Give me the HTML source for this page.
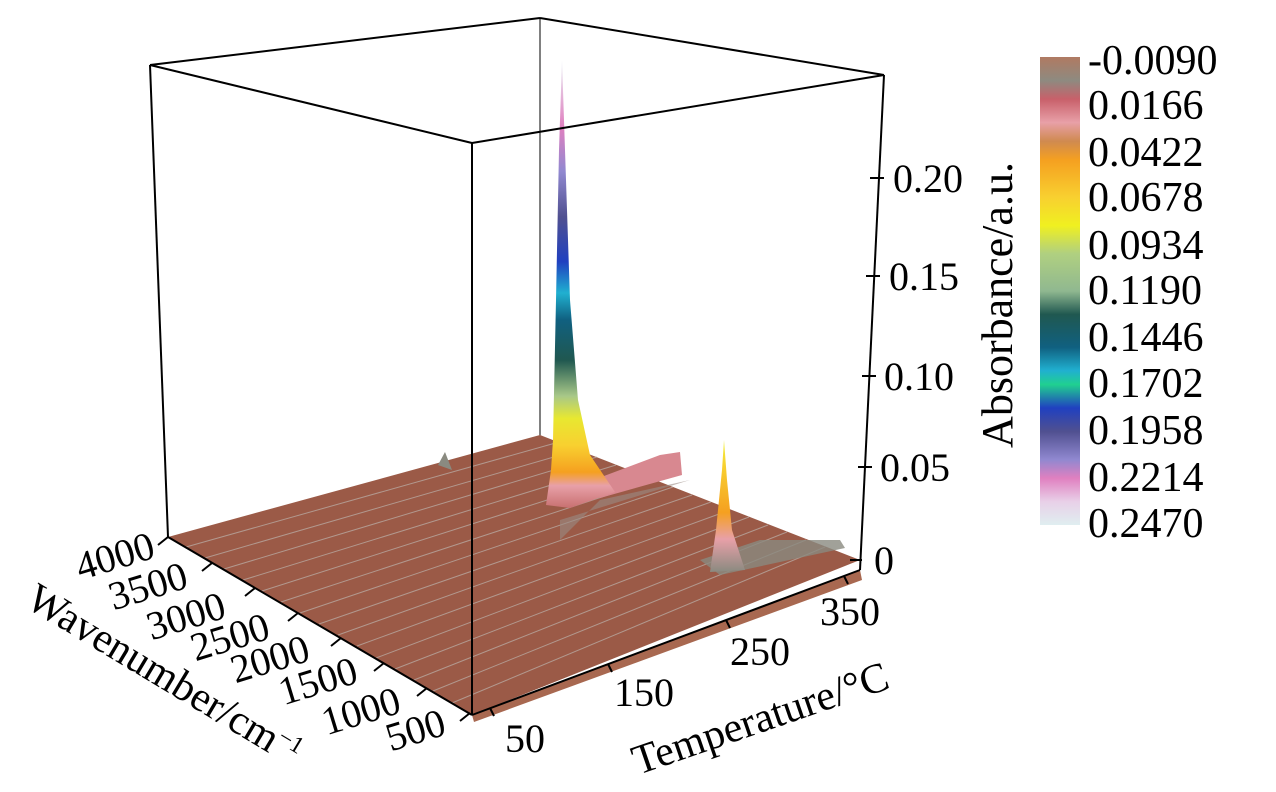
<!DOCTYPE html>
<html><head><meta charset="utf-8"><style>
body{margin:0;background:#fff}
svg text{font-family:"Liberation Serif",serif;fill:#000}
</style></head><body>
<svg width="1276" height="787" viewBox="0 0 1276 787" xmlns="http://www.w3.org/2000/svg">
<defs>
<linearGradient id="cb" x1="0" y1="0" x2="0" y2="1">
<stop offset="0" stop-color="#b07a62"/><stop offset="0.05" stop-color="#8e8a80"/>
<stop offset="0.09" stop-color="#c8606a"/><stop offset="0.14" stop-color="#e8a0a8"/>
<stop offset="0.18" stop-color="#d08a50"/><stop offset="0.22" stop-color="#f5a020"/>
<stop offset="0.3" stop-color="#f8d030"/><stop offset="0.36" stop-color="#f0f020"/>
<stop offset="0.42" stop-color="#b0d080"/><stop offset="0.5" stop-color="#90b890"/>
<stop offset="0.55" stop-color="#205850"/><stop offset="0.62" stop-color="#106080"/>
<stop offset="0.67" stop-color="#20b0d0"/><stop offset="0.7" stop-color="#20d090"/>
<stop offset="0.75" stop-color="#2040c0"/><stop offset="0.8" stop-color="#505090"/>
<stop offset="0.86" stop-color="#9088d0"/><stop offset="0.9" stop-color="#e080c0"/>
<stop offset="0.95" stop-color="#e8d0e8"/><stop offset="1" stop-color="#e0eef0"/>
</linearGradient>
<linearGradient id="pk" x1="0" y1="1" x2="0" y2="0">
<stop offset="0" stop-color="#c87070"/><stop offset="0.05" stop-color="#e8a0a8"/>
<stop offset="0.08" stop-color="#f5a020"/><stop offset="0.14" stop-color="#f8d030"/>
<stop offset="0.2" stop-color="#e8e830"/><stop offset="0.25" stop-color="#a8c888"/>
<stop offset="0.33" stop-color="#205850"/><stop offset="0.42" stop-color="#106080"/>
<stop offset="0.48" stop-color="#20b0d0"/><stop offset="0.55" stop-color="#2040c0"/>
<stop offset="0.65" stop-color="#505090"/><stop offset="0.75" stop-color="#9088d0"/>
<stop offset="0.85" stop-color="#e080c0"/><stop offset="1" stop-color="#e8eef4"/>
</linearGradient>
<linearGradient id="pk2" x1="0" y1="1" x2="0" y2="0">
<stop offset="0" stop-color="#8a8a80"/><stop offset="0.25" stop-color="#e8a0a8"/>
<stop offset="0.45" stop-color="#f5a020"/><stop offset="0.8" stop-color="#f8d030"/>
<stop offset="1" stop-color="#f0f040"/>
</linearGradient>
</defs>
<g stroke="#000" stroke-width="2" fill="none">
<line x1="150" y1="65" x2="540" y2="18"/>
<line x1="540" y1="18" x2="884" y2="75"/>
<line x1="540" y1="18" x2="540" y2="440" stroke-width="1"/>
</g>
<polygon points="168,537 540,435 860,560 472,715" fill="#9b5a47"/>
<polygon points="472,715 860,570 862,580 474,722" fill="#a86850"/>
<g stroke="#b8a8a0" stroke-width="1" opacity="0.8">
<line x1="186" y1="547" x2="559" y2="442"/><line x1="205" y1="558" x2="578" y2="450"/>
<line x1="224" y1="569" x2="597" y2="457"/><line x1="243" y1="580" x2="616" y2="465"/>
<line x1="262" y1="591" x2="635" y2="472"/><line x1="281" y1="602" x2="654" y2="480"/>
<line x1="300" y1="613" x2="673" y2="487"/><line x1="319" y1="624" x2="692" y2="495"/>
<line x1="338" y1="635" x2="711" y2="502"/><line x1="357" y1="646" x2="730" y2="510"/>
<line x1="376" y1="658" x2="749" y2="517"/><line x1="395" y1="669" x2="768" y2="525"/>
<line x1="414" y1="680" x2="787" y2="532"/><line x1="433" y1="691" x2="806" y2="540"/>
<line x1="452" y1="703" x2="825" y2="547"/>
</g>
<polygon points="588,482 660,455 680,452 682,475 600,498" fill="#d88890"/>
<polygon points="560,540 600,500 690,480 560,520" fill="#9a8a84" opacity="0.6"/>
<polygon points="700,560 760,540 840,540 845,548 720,575" fill="#8a8a80" opacity="0.8"/>
<polygon points="438,465 445,452 452,470" fill="#8a8a80"/>
<path d="M546,505 L551,470 L553,440 L556,300 L559,150 L562,60 L565,150 L570,300 L578,400 L590,455 L615,492 L570,508 Z" fill="url(#pk)"/>
<path d="M710,572 L716,530 L722,470 L724,440 L727,480 L732,530 L745,570 Z" fill="url(#pk2)"/>
<g stroke="#000" stroke-width="2" fill="none">
<line x1="150" y1="65" x2="472" y2="143"/>
<line x1="472" y1="143" x2="884" y2="75"/>
<line x1="150" y1="65" x2="168" y2="537"/>
<line x1="472" y1="143" x2="472" y2="715"/>
<line x1="884" y1="75" x2="860" y2="570"/>
<line x1="168" y1="537" x2="472" y2="715"/>
<line x1="472" y1="715" x2="860" y2="570"/>
</g>
<g stroke="#000" stroke-width="2">
<line x1="870" y1="178" x2="884" y2="178"/><line x1="866" y1="276" x2="880" y2="276"/>
<line x1="862" y1="376" x2="876" y2="376"/><line x1="858" y1="467" x2="872" y2="467"/>
<line x1="850" y1="560" x2="862" y2="560"/>
</g>
<g font-size="40">
<text x="893" y="192">0.20</text><text x="889" y="290">0.15</text>
<text x="884" y="390">0.10</text><text x="880" y="481">0.05</text>
<text x="874" y="574">0</text>
</g>
<text font-size="44" transform="translate(1012,305) rotate(-90)" text-anchor="middle">Absorbance/a.u.</text>
<g stroke="#000" stroke-width="2">
<line x1="168" y1="537" x2="158" y2="545"/><line x1="212" y1="563" x2="202" y2="571"/>
<line x1="255" y1="588" x2="245" y2="596"/><line x1="298" y1="613" x2="288" y2="621"/>
<line x1="341" y1="638" x2="331" y2="646"/><line x1="384" y1="663" x2="374" y2="671"/>
<line x1="427" y1="688" x2="417" y2="696"/><line x1="470" y1="713" x2="460" y2="721"/>
</g>
<g font-size="40" text-anchor="end">
<text transform="translate(157,557) rotate(-17)">4000</text>
<text transform="translate(190,587) rotate(-17)">3500</text>
<text transform="translate(228,617) rotate(-17)">3000</text>
<text transform="translate(272,638) rotate(-17)">2500</text>
<text transform="translate(312,660) rotate(-17)">2000</text>
<text transform="translate(360,682) rotate(-17)">1500</text>
<text transform="translate(403,712) rotate(-17)">1000</text>
<text transform="translate(448,734) rotate(-17)">500</text>
</g>
<text font-size="42" transform="translate(24,606) rotate(31)">Wavenumber/cm<tspan font-size="24" dy="-14">−1</tspan></text>
<g stroke="#000" stroke-width="2">
<line x1="490" y1="708" x2="494" y2="716"/><line x1="608" y1="664" x2="612" y2="672"/>
<line x1="726" y1="620" x2="730" y2="628"/><line x1="844" y1="576" x2="848" y2="584"/>
</g>
<g font-size="40">
<text x="505" y="752">50</text><text x="614" y="706">150</text>
<text x="730" y="665">250</text><text x="820" y="625">350</text>
</g>
<text font-size="42" transform="translate(638,775) rotate(-19)">Temperature/°C</text>
<rect x="1040" y="57" width="40" height="468" fill="url(#cb)"/>
<g font-size="42">
<text x="1088" y="74">-0.0090</text><text x="1088" y="119">0.0166</text>
<text x="1088" y="166">0.0422</text><text x="1088" y="211">0.0678</text>
<text x="1088" y="259">0.0934</text><text x="1088" y="304">0.1190</text>
<text x="1088" y="351">0.1446</text><text x="1088" y="397">0.1702</text>
<text x="1088" y="444">0.1958</text><text x="1088" y="491">0.2214</text>
<text x="1088" y="537">0.2470</text>
</g>
</svg>
</body></html>
